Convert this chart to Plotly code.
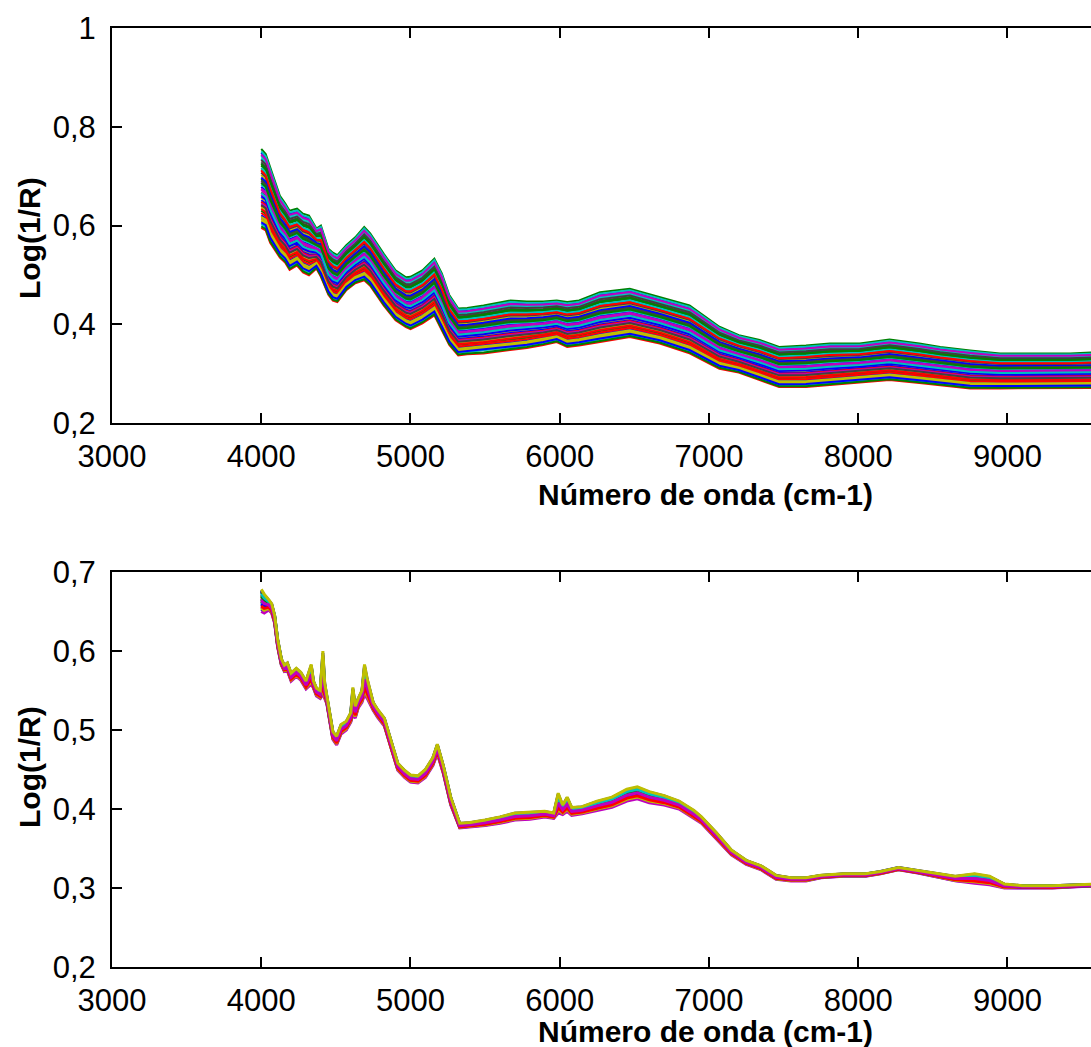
import plotly.graph_objects as go

# ---------------- data ----------------
# Top panel: raw spectra, upper and lower envelope of the bundle
top_wavenumber = [4000, 4030, 4060, 4090, 4125, 4160, 4190, 4240, 4280, 4320,
                  4370, 4400, 4450, 4480, 4510, 4570, 4630, 4690, 4730, 4820,
                  4900, 4970, 5000, 5080, 5160, 5210, 5260, 5320, 5380, 5490,
                  5670, 5780, 5890, 5980, 6050, 6130, 6270, 6470, 6670, 6870,
                  7070, 7200, 7340, 7470, 7650, 7810, 8010, 8210, 8410, 8550,
                  8750, 8950, 9240, 9420, 9600]
top_upper = [0.755, 0.745, 0.718, 0.690, 0.660, 0.645, 0.630, 0.634, 0.624, 0.620,
             0.594, 0.600, 0.553, 0.545, 0.540, 0.560, 0.576, 0.597, 0.584, 0.543,
             0.509, 0.495, 0.496, 0.509, 0.533, 0.503, 0.459, 0.432, 0.433, 0.438,
             0.448, 0.446, 0.446, 0.448, 0.445, 0.448, 0.465, 0.472, 0.455, 0.438,
             0.395, 0.378, 0.368, 0.354, 0.357, 0.361, 0.361, 0.369, 0.361, 0.354,
             0.347, 0.341, 0.341, 0.341, 0.343]
top_lower = [0.595, 0.590, 0.565, 0.550, 0.535, 0.525, 0.510, 0.519, 0.505, 0.499,
             0.513, 0.496, 0.460, 0.448, 0.445, 0.469, 0.483, 0.489, 0.478, 0.438,
             0.408, 0.394, 0.390, 0.402, 0.418, 0.388, 0.358, 0.337, 0.339, 0.341,
             0.347, 0.352, 0.358, 0.364, 0.354, 0.357, 0.364, 0.374, 0.361, 0.341,
             0.310, 0.302, 0.287, 0.273, 0.273, 0.277, 0.283, 0.287, 0.281, 0.277,
             0.270, 0.270, 0.270, 0.270, 0.271]

# Bottom panel: pre-processed spectra, upper and lower envelope of the bundle
bot_wavenumber = [4000, 4020, 4050, 4070, 4090, 4110, 4135, 4155, 4175, 4200,
                  4235, 4265, 4300, 4335, 4350, 4370, 4395, 4413, 4425, 4440,
                  4460, 4480, 4505, 4535, 4570, 4600, 4614, 4630, 4650, 4675,
                  4692, 4710, 4750, 4780, 4825, 4870, 4915, 4960, 5000, 5050,
                  5100, 5150, 5180, 5220, 5270, 5330, 5400, 5500, 5600, 5700,
                  5800, 5900, 5960, 5990, 6020, 6050, 6080, 6150, 6250, 6350,
                  6450, 6520, 6600, 6700, 6800, 6900, 6950, 7050, 7150, 7250,
                  7350, 7450, 7550, 7650, 7750, 7900, 8050, 8150, 8270, 8400,
                  8550, 8650, 8780, 8880, 8980, 9100, 9300, 9500, 9600]
bot_upper = [0.678, 0.672, 0.665, 0.660, 0.645, 0.615, 0.590, 0.582, 0.585, 0.572,
             0.578, 0.573, 0.562, 0.583, 0.562, 0.553, 0.550, 0.600, 0.560, 0.543,
             0.520, 0.498, 0.492, 0.507, 0.511, 0.522, 0.554, 0.530, 0.540, 0.550,
             0.583, 0.565, 0.535, 0.526, 0.515, 0.486, 0.458, 0.449, 0.443, 0.442,
             0.450, 0.465, 0.482, 0.455, 0.415, 0.382, 0.383, 0.386, 0.390, 0.395,
             0.396, 0.397, 0.395, 0.420, 0.405, 0.415, 0.402, 0.403, 0.410, 0.415,
             0.425, 0.428, 0.422, 0.417, 0.410, 0.398, 0.390, 0.370, 0.348, 0.335,
             0.328, 0.316, 0.313, 0.313, 0.316, 0.318, 0.318, 0.321, 0.326, 0.322,
             0.318, 0.315, 0.318, 0.315, 0.305, 0.303, 0.303, 0.305, 0.305]
bot_lower = [0.650, 0.648, 0.652, 0.648, 0.635, 0.605, 0.582, 0.574, 0.575, 0.562,
             0.568, 0.563, 0.552, 0.558, 0.553, 0.543, 0.540, 0.545, 0.540, 0.533,
             0.510, 0.488, 0.481, 0.495, 0.500, 0.510, 0.520, 0.515, 0.528, 0.535,
             0.545, 0.540, 0.525, 0.516, 0.505, 0.476, 0.449, 0.440, 0.434, 0.433,
             0.440, 0.455, 0.470, 0.445, 0.405, 0.376, 0.377, 0.379, 0.382, 0.386,
             0.387, 0.390, 0.388, 0.395, 0.393, 0.397, 0.392, 0.394, 0.398, 0.402,
             0.410, 0.413, 0.408, 0.405, 0.400, 0.388, 0.382, 0.362, 0.342, 0.330,
             0.323, 0.311, 0.309, 0.309, 0.313, 0.315, 0.315, 0.318, 0.323, 0.319,
             0.313, 0.309, 0.306, 0.304, 0.300, 0.300, 0.300, 0.302, 0.302]

# position of each sample inside the bundle (0 = lower edge, 1 = upper edge)
top_sample_pos = [0.52, 1.00, 0.00, 0.88, 0.12, 0.67, 0.45, 0.95, 0.22, 0.74,
                  0.05, 0.58, 0.38, 0.83, 0.16, 0.62, 0.28, 0.91, 0.48, 0.09,
                  0.70, 0.35, 0.79, 0.19, 0.55, 0.42, 0.26, 0.86, 0.64, 0.02,
                  0.33, 0.76, 0.50, 0.14, 0.60, 0.40, 0.81, 0.24, 0.97, 0.31,
                  0.11, 0.29, 0.07, 0.57, 0.72, 0.44, 0.93]
bot_sample_pos = [0.10, 0.55, 0.30, 0.85, 0.00, 0.65, 0.45, 0.95, 0.20, 0.75,
                  0.40, 0.60, 0.15, 0.90, 0.35, 0.70, 0.25, 0.80, 0.50, 1.00]

y_ticks_top = [0.2, 0.4, 0.6, 0.8, 1.0]
y_labels_top = ["0,2", "0,4", "0,6", "0,8", "1"]
y_ticks_bot = [0.2, 0.3, 0.4, 0.5, 0.6, 0.7]
y_labels_bot = ["0,2", "0,3", "0,4", "0,5", "0,6", "0,7"]
x_ticks = [3000, 4000, 5000, 6000, 7000, 8000, 9000, 10000]

x_title = "Número de onda (cm-1)"
y_title = "Log(1/R)"

# MATLAB classic colour order
colors = ["#0000ff", "#008000", "#ff0000", "#00bfbf", "#bf00bf", "#bfbf00", "#404040"]

# ---------------- figure ----------------
fig = go.Figure()

for i, p in enumerate(top_sample_pos):
    ys = [lo + p * (up - lo) for lo, up in zip(top_lower, top_upper)]
    fig.add_trace(go.Scatter(x=top_wavenumber, y=ys, mode="lines",
                             line=dict(color=colors[i % len(colors)], width=2),
                             xaxis="x", yaxis="y", showlegend=False, hoverinfo="skip"))

for i, p in enumerate(bot_sample_pos):
    ys = [lo + p * (up - lo) for lo, up in zip(bot_lower, bot_upper)]
    fig.add_trace(go.Scatter(x=bot_wavenumber, y=ys, mode="lines",
                             line=dict(color=colors[i % len(colors)], width=3),
                             xaxis="x2", yaxis="y2", showlegend=False, hoverinfo="skip"))

FONT = "Liberation Sans, Arial, sans-serif"
axis_common = dict(showgrid=False, zeroline=False, showline=True, linecolor="#000",
                   linewidth=2, ticks="inside", ticklen=10, tickwidth=2, tickcolor="#000",
                   automargin=False,
                   tickfont=dict(family=FONT, size=31, color="#000"))

H = 1047.0
fig.update_layout(
    width=1091, height=1047,
    margin=dict(l=112, r=0, t=0, b=0, autoexpand=False),
    paper_bgcolor="white", plot_bgcolor="white",
    xaxis=dict(domain=[0, 1], anchor="y", range=[3000, 9560], tickvals=x_ticks,
               mirror="ticks", ticklabelstandoff=5, **axis_common),
    yaxis=dict(domain=[1 - 423 / H, 1 - 28 / H], anchor="x", range=[0.2, 1.0],
               tickvals=y_ticks_top, ticktext=y_labels_top, mirror=False,
               ticklabelstandoff=8, **axis_common),
    xaxis2=dict(domain=[0, 1], anchor="y2", range=[3000, 9560], tickvals=x_ticks,
                mirror="ticks", ticklabelstandoff=5, **axis_common),
    yaxis2=dict(domain=[1 - 967 / H, 1 - 572 / H], anchor="x2", range=[0.2, 0.7],
                tickvals=y_ticks_bot, ticktext=y_labels_bot, mirror=False,
                ticklabelstandoff=8, **axis_common),
)

title_font = dict(family=FONT, size=30, color="#000")
for yc in (494, 1031):
    fig.add_annotation(text="<b>" + x_title + "</b>", xref="paper", yref="paper",
                       x=(705 - 112) / 979.0, y=1 - yc / H, showarrow=False,
                       xanchor="center", yanchor="middle", font=title_font)
for yc in (238, 767):
    fig.add_annotation(text="<b>" + y_title + "</b>", xref="paper", yref="paper",
                       x=(29 - 112) / 979.0, y=1 - yc / H, showarrow=False, textangle=-90,
                       xanchor="center", yanchor="middle", font=title_font)

fig.write_html("out.html")
